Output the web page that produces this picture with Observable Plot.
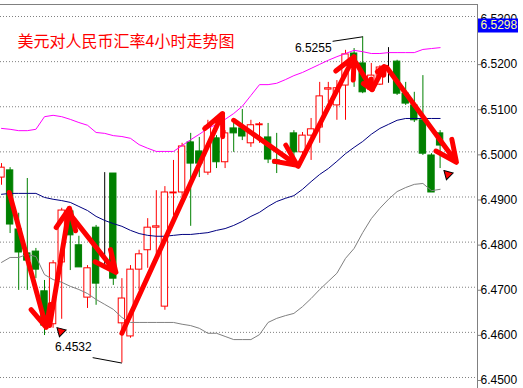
<!DOCTYPE html>
<html><head><meta charset="utf-8">
<style>html,body{margin:0;padding:0;background:#fff;}</style>
<script src="https://cdn.jsdelivr.net/npm/d3@7"></script>
<script src="https://cdn.jsdelivr.net/npm/@observablehq/plot@0.6"></script>
</head><body><div id="chart"></div>
<script>
const title = "美元对人民币汇率4小时走势图";
const open  = [6.4943,6.4959,6.4828,6.4775,6.4779,6.4691,6.4618,6.4755,6.4868,6.4793,6.4677,6.4832,6.4744,6.4952,6.4620,6.4591,6.4739,6.4782,6.4832,6.4657,6.4908,6.4910,6.5021,6.5001,6.4954,6.5030,6.4977,6.5052,6.5052,6.5019,6.5059,6.5032,6.4981,6.4970,6.5041,6.4999,6.5036,6.5054,6.5138,6.5103,6.5147,6.5218,6.5196,6.5138,6.5149,6.5152,6.5200,6.5129,6.5103,6.5070,6.4992,6.5041];
const high  = [6.4974,6.4965,6.4864,6.4941,6.4786,6.4715,6.4759,6.4875,6.4875,6.4813,6.4748,6.4837,6.4954,6.4952,6.4719,6.4748,6.4782,6.4852,6.4914,6.4923,6.4981,6.5019,6.5041,6.5032,6.5070,6.5036,6.5047,6.5067,6.5094,6.5070,6.5065,6.5063,6.5041,6.4970,6.5047,6.5043,6.5074,6.5154,6.5154,6.5158,6.5225,6.5229,6.5255,6.5196,6.5191,6.5231,6.5203,6.5154,6.5132,6.5169,6.4996,6.5047];
const low   = [6.4926,6.4819,6.4693,6.4693,6.4719,6.4593,6.4609,6.4629,6.4737,6.4744,6.4653,6.4660,6.4742,6.4704,6.4532,6.4587,6.4693,6.4742,6.4770,6.4649,6.4859,6.4899,6.4835,6.4943,6.4948,6.4963,6.4963,6.4999,6.5025,6.5010,6.5019,6.4974,6.4952,6.4970,6.4983,6.4981,6.4981,6.5019,6.5109,6.5070,6.5070,6.5143,6.5129,6.5136,6.5147,6.5152,6.5125,6.5103,6.5065,6.4992,6.4910,6.4963];
const close = [6.4965,6.4839,6.4777,6.4759,6.4739,6.4615,6.4753,6.4870,6.4815,6.4744,6.4742,6.4708,6.4744,6.4719,6.4675,6.4739,6.4773,6.4832,6.4835,6.4910,6.4910,6.5012,6.4974,6.4974,6.5056,6.4977,6.5041,6.5041,6.5034,6.5059,6.5061,6.4983,6.4974,6.4970,6.4999,6.5036,6.5050,6.5123,6.5141,6.5141,6.5216,6.5196,6.5132,6.5169,6.5187,6.5152,6.5129,6.5107,6.5070,6.4996,6.4910,6.5014];
const upperBand  = [6.5052,6.5050,6.5047,6.5047,6.5050,6.5078,6.5081,6.5078,6.5072,6.5065,6.5059,6.5043,6.5041,6.5036,6.5034,6.5030,6.5016,6.5008,6.5001,6.5001,6.5001,6.5014,6.5027,6.5039,6.5052,6.5061,6.5072,6.5085,6.5101,6.5125,6.5149,6.5149,6.5152,6.5160,6.5169,6.5176,6.5185,6.5194,6.5203,6.5211,6.5218,6.5225,6.5222,6.5218,6.5218,6.5220,6.5220,6.5220,6.5220,6.5227,6.5229,6.5231];
const middleBand = [6.4906,6.4908,6.4908,6.4908,6.4908,6.4899,6.4895,6.4892,6.4888,6.4879,6.4870,6.4857,6.4848,6.4841,6.4835,6.4826,6.4819,6.4815,6.4813,6.4813,6.4815,6.4817,6.4817,6.4819,6.4821,6.4826,6.4830,6.4837,6.4846,6.4857,6.4866,6.4879,6.4890,6.4897,6.4903,6.4917,6.4934,6.4950,6.4963,6.4979,6.4996,6.5010,6.5023,6.5039,6.5052,6.5061,6.5070,6.5074,6.5074,6.5074,6.5074,6.5074];
const lowerBand  = [6.4755,6.4766,6.4766,6.4773,6.4768,6.4728,6.4717,6.4711,6.4702,6.4695,6.4686,6.4673,6.4662,6.4651,6.4633,6.4622,6.4622,6.4622,6.4622,6.4622,6.4622,6.4618,6.4615,6.4609,6.4598,6.4598,6.4591,6.4584,6.4584,6.4584,6.4595,6.4622,6.4631,6.4637,6.4642,6.4657,6.4675,6.4695,6.4713,6.4731,6.4764,6.4786,6.4821,6.4852,6.4875,6.4895,6.4912,6.4921,6.4928,6.4930,6.4914,6.4917];
const yTicks = [6.45,6.46,6.47,6.48,6.49,6.50,6.51,6.52,6.53];
// trend arrows: from (index, price) to (index, price)
const arrowFromX = [0.9, 5.6, 7.8, 14.0, 27.0, 34.5, 41.2, 43.1, 44.8];
const arrowFromY = [6.4910, 6.4615, 6.4866, 6.4598, 6.5070, 6.4968, 6.5198, 6.5138, 6.5187];
const arrowToX   = [5.2, 7.9, 13.3, 25.7, 34.4, 41.0, 43.1, 44.5, 52.9];
const arrowToY   = [6.4611, 6.4875, 6.4733, 6.5085, 6.4970, 6.5211, 6.5138, 6.5189, 6.4977];
// extreme labels
const extremeLabels = ["6.5255", "6.4532"];
const extremeX = [42, 14];
const extremeY = [6.5255, 6.4532];
const leaderX = [38.5, 10.6];
const leaderY = [6.5245, 6.4544];
const flagX = [6.9, 51.9];
const flagY = [6.4602, 6.4950];
const lastPrice = [6.5298];

const candles = open.map((o, i) => ({i, open: o, high: high[i], low: low[i], close: close[i]}));
const col = d => d.close > d.open ? "#ff0000" : d.close < d.open ? "#008000" : "#000000";
const idx = upperBand.map((_, i) => i);
const arrows = arrowFromX.map((x, k) => ({x1: x, y1: arrowFromY[k], x2: arrowToX[k], y2: arrowToY[k]}));
const ext = extremeLabels.map((t, k) => ({t, x: extremeX[k], y: extremeY[k], lx: leaderX[k], ly: leaderY[k]}));
const flags = flagX.map((x, k) => ({x, y: flagY[k]}));

const W = 523, H = 388, MR = 46, MT = 4;
const plot = Plot.plot({
  width: W, height: H,
  marginLeft: 0, marginRight: MR, marginTop: MT, marginBottom: 0,
  style: {fontFamily: "'Liberation Sans', Arial, sans-serif", fontSize: "12px", background: "#fff", color: "#000"},
  x: {domain: [0, 51], range: [1, 439.6], axis: null},
  y: {domain: [6.44756, 6.53266], axis: null},
  color: {type: "identity"},
  marks: [
    Plot.gridY(yTicks, {stroke: "#808080", strokeOpacity: 1, strokeDasharray: "1,2"}),
    Plot.axisY(yTicks, {anchor: "right", tickFormat: d => d.toFixed(4), tickSize: 3, tickPadding: 0, dy: 3, fontSize: 12, fill: "#000", stroke: "#808080"}),
    Plot.text([title], {frameAnchor: "top-left", dx: 17, dy: 37, lineAnchor: "middle", textAnchor: "start", fill: "#ff0000", fontSize: 16, fontFamily: "'Noto Sans CJK SC', sans-serif"}),
    Plot.ruleX(candles, {x: "i", y1: "low", y2: "high", stroke: col, strokeWidth: 1}),
    Plot.rect(candles, {
      x1: d => d.i - 0.37, x2: d => d.i + 0.37,
      y1: d => Math.min(d.open, d.close), y2: d => Math.max(d.open, d.close),
      fill: d => d.close > d.open ? "#ffffff" : d.close < d.open ? "#008000" : "none",
      stroke: col, strokeWidth: 1
    }),
    Plot.line(idx, {x: i => i, y: i => upperBand[i], stroke: "#ff00ff", strokeWidth: 1}),
    Plot.line(idx, {x: i => i, y: i => middleBand[i], stroke: "#000080", strokeWidth: 1}),
    Plot.line(idx, {x: i => i, y: i => lowerBand[i], stroke: "#808080", strokeWidth: 1}),
    Plot.link(ext, {x1: "lx", y1: "ly", x2: "x", y2: "y", stroke: "#000", strokeWidth: 1}),
    Plot.text(ext.slice(0, 1), {x: "lx", y: "ly", text: "t", textAnchor: "end", dx: -1, dy: 7, fill: "#000", fontSize: 12}),
    Plot.text(ext.slice(1), {x: "lx", y: "ly", text: "t", textAnchor: "end", dx: -1, dy: -10, fill: "#000", fontSize: 12}),
    Plot.arrow(arrows, {x1: "x1", y1: "y1", x2: "x2", y2: "y2", stroke: "#ff0000", strokeWidth: 5, headLength: 7, headAngle: 50, strokeLinejoin: "miter"}),
    Plot.dot(flags, {x: "x", y: "y", symbol: "triangle", r: 3.5, fill: "#ff0000", stroke: "#000", strokeWidth: 1, rotate: -45}),
    // current price box on the right axis
    Plot.ruleY(lastPrice, {y: d => d, stroke: "#0000ff", strokeWidth: 14, insetLeft: W - MR - 40, dx: 41, dy: 8}),
    Plot.text(lastPrice, {y: d => d, text: d => d.toFixed(4), frameAnchor: "right", textAnchor: "start", dx: 3, dy: 8, fill: "#ffff99", fontSize: 12})
  ]
});

const svg = d3.select(plot);
const xr = W - MR;
svg.append("line").attr("x1", 0).attr("x2", xr).attr("y1", MT + 0.5).attr("y2", MT + 0.5).style("stroke", "#808080");
svg.append("line").attr("x1", xr + 0.5).attr("x2", xr + 0.5).attr("y1", MT).attr("y2", H).style("stroke", "#808080");
document.getElementById("chart").appendChild(plot);
</script>
</body></html>
